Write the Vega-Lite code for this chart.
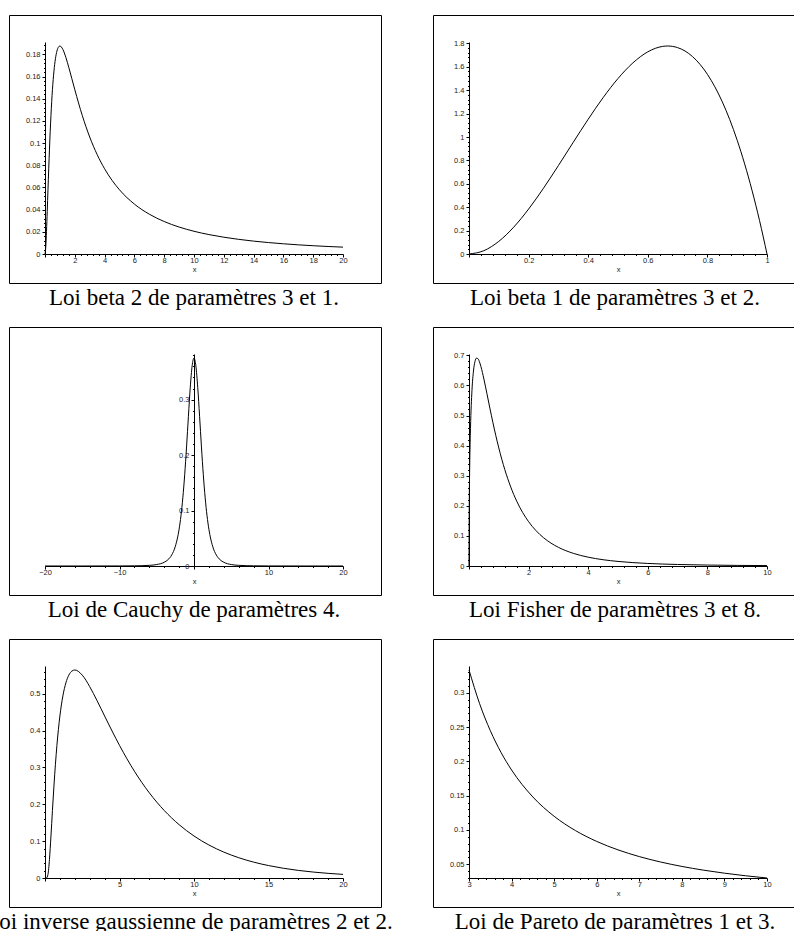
{
  "$schema": "https://vega.github.io/schema/vega-lite/v6.json",
  "background": "white",
  "padding": {"left": -16, "top": 14, "right": 0, "bottom": 0},
  "columns": 2,
  "spacing": {"row": 44, "column": 52},
  "bounds": "flush",
  "config": {
    "view": {"stroke": "black", "strokeWidth": 1},
    "axis": {"domainColor": "black", "domainWidth": 1, "tickColor": "black", "tickWidth": 1, "grid": false, "labelFont": "Liberation Sans", "labelFontSize": 7.5, "labelColor": "#222", "titleFont": "Liberation Sans", "titleFontSize": 7.5, "titleFontWeight": "normal", "titleColor": "#222", "labelFlush": false, "labelOverlap": false, "labelBound": false},
    "axisX": {"labelPadding": -1, "titlePadding": 2},
    "axisY": {"labelPadding": 2},
    "title": {"font": "Liberation Serif", "fontSize": 23, "fontWeight": "normal", "color": "black", "orient": "bottom", "anchor": "middle", "frame": "group", "baseline": "alphabetic", "offset": 0},
    "line": {"color": "black", "strokeWidth": 1}
  },
  "datasets": {
    "beta2": [{"x":0,"y":0},{"x":0.05,"y":0.00617},{"x":0.1,"y":0.02049},{"x":0.15,"y":0.03859},{"x":0.2,"y":0.05787},{"x":0.3,"y":0.09453},{"x":0.4,"y":0.12495},{"x":0.5,"y":0.14815},{"x":0.6,"y":0.16479},{"x":0.7,"y":0.176},{"x":0.8,"y":0.1829},{"x":0.9,"y":0.18646},{"x":1,"y":0.1875},{"x":1.2,"y":0.18441},{"x":1.4,"y":0.17723},{"x":1.6,"y":0.16806},{"x":1.8,"y":0.15814},{"x":2,"y":0.14815},{"x":2.5,"y":0.12495},{"x":3,"y":0.10547},{"x":3.5,"y":0.08962},{"x":4,"y":0.0768},{"x":4.5,"y":0.06639},{"x":5,"y":0.05787},{"x":6,"y":0.04498},{"x":7,"y":0.03589},{"x":8,"y":0.02926},{"x":9,"y":0.0243},{"x":10,"y":0.02049},{"x":11,"y":0.01751},{"x":12,"y":0.01513},{"x":13,"y":0.0132},{"x":14,"y":0.01161},{"x":15,"y":0.0103},{"x":16,"y":0.0092},{"x":17,"y":0.00826},{"x":18,"y":0.00746},{"x":19,"y":0.00677},{"x":20,"y":0.00617}],
    "beta1": [{"x":0,"y":0},{"x":0.05,"y":0.0285},{"x":0.1,"y":0.108},{"x":0.15,"y":0.2295},{"x":0.2,"y":0.384},{"x":0.25,"y":0.5625},{"x":0.3,"y":0.756},{"x":0.35,"y":0.9555},{"x":0.4,"y":1.152},{"x":0.45,"y":1.3365},{"x":0.5,"y":1.5},{"x":0.55,"y":1.6335},{"x":0.6,"y":1.728},{"x":0.65,"y":1.7745},{"x":0.6667,"y":1.7778},{"x":0.7,"y":1.764},{"x":0.75,"y":1.6875},{"x":0.8,"y":1.536},{"x":0.85,"y":1.3005},{"x":0.875,"y":1.14844},{"x":0.9,"y":0.972},{"x":0.925,"y":0.77006},{"x":0.95,"y":0.5415},{"x":0.975,"y":0.28519},{"x":1,"y":0}],
    "cauchy": [{"x":-20,"y":0.0000037},{"x":-15,"y":0.0000151},{"x":-10,"y":0.000109},{"x":-8,"y":0.000315},{"x":-6,"y":0.001186},{"x":-5,"y":0.00265},{"x":-4,"y":0.006708},{"x":-3.5,"y":0.01127},{"x":-3,"y":0.01969},{"x":-2.5,"y":0.03567},{"x":-2,"y":0.06629},{"x":-1.75,"y":0.09053},{"x":-1.5,"y":0.12288},{"x":-1.25,"y":0.16444},{"x":-1,"y":0.21466},{"x":-0.75,"y":0.2699},{"x":-0.5,"y":0.32226},{"x":-0.25,"y":0.36074},{"x":0,"y":0.375},{"x":0.25,"y":0.36074},{"x":0.5,"y":0.32226},{"x":0.75,"y":0.2699},{"x":1,"y":0.21466},{"x":1.25,"y":0.16444},{"x":1.5,"y":0.12288},{"x":1.75,"y":0.09053},{"x":2,"y":0.06629},{"x":2.5,"y":0.03567},{"x":3,"y":0.01969},{"x":3.5,"y":0.01127},{"x":4,"y":0.006708},{"x":5,"y":0.00265},{"x":6,"y":0.001186},{"x":8,"y":0.000315},{"x":10,"y":0.000109},{"x":15,"y":0.0000151},{"x":20,"y":0.0000037}],
    "fisher": [{"x":0,"y":0},{"x":0.01,"y":0.22144},{"x":0.02,"y":0.30682},{"x":0.05,"y":0.45636},{"x":0.1,"y":0.58381},{"x":0.15,"y":0.64793},{"x":0.2,"y":0.67916},{"x":0.25,"y":0.69045},{"x":0.3,"y":0.68883},{"x":0.35,"y":0.67869},{"x":0.4,"y":0.66282},{"x":0.5,"y":0.62118},{"x":0.6,"y":0.57349},{"x":0.7,"y":0.52476},{"x":0.8,"y":0.47763},{"x":0.9,"y":0.43319},{"x":1,"y":0.39226},{"x":1.2,"y":0.32082},{"x":1.4,"y":0.26265},{"x":1.6,"y":0.21562},{"x":1.8,"y":0.17775},{"x":2,"y":0.14725},{"x":2.25,"y":0.11723},{"x":2.5,"y":0.09408},{"x":2.75,"y":0.07609},{"x":3,"y":0.06199},{"x":3.5,"y":0.04206},{"x":4,"y":0.02928},{"x":4.5,"y":0.02087},{"x":5,"y":0.01518},{"x":6,"y":0.00848},{"x":7,"y":0.00502},{"x":8,"y":0.00312},{"x":9,"y":0.00202},{"x":10,"y":0.00136}],
    "invgauss": [{"x":0,"y":0},{"x":0.1,"y":0.0000679},{"x":0.2,"y":0.00983},{"x":0.3,"y":0.05075},{"x":0.4,"y":0.11391},{"x":0.5,"y":0.18317},{"x":0.6,"y":0.24931},{"x":0.7,"y":0.30852},{"x":0.8,"y":0.35974},{"x":0.9,"y":0.40314},{"x":1,"y":0.43939},{"x":1.2,"y":0.49376},{"x":1.4,"y":0.52906},{"x":1.6,"y":0.55026},{"x":1.8,"y":0.56107},{"x":2,"y":0.56419},{"x":2.5,"y":0.55026},{"x":3,"y":0.51908},{"x":3.5,"y":0.48043},{"x":4,"y":0.43939},{"x":4.5,"y":0.39868},{"x":5,"y":0.35974},{"x":6,"y":0.28966},{"x":7,"y":0.23103},{"x":8,"y":0.18317},{"x":9,"y":0.14465},{"x":10,"y":0.11391},{"x":11,"y":0.08951},{"x":12,"y":0.07025},{"x":13,"y":0.05506},{"x":14,"y":0.04309},{"x":15,"y":0.03374},{"x":16,"y":0.02639},{"x":17,"y":0.02062},{"x":18,"y":0.01612},{"x":19,"y":0.01259},{"x":20,"y":0.00983}],
    "pareto": [{"x":3,"y":0.33333},{"x":3.25,"y":0.28402},{"x":3.5,"y":0.2449},{"x":3.75,"y":0.21333},{"x":4,"y":0.1875},{"x":4.5,"y":0.14815},{"x":5,"y":0.12},{"x":5.5,"y":0.09917},{"x":6,"y":0.08333},{"x":6.5,"y":0.07101},{"x":7,"y":0.06122},{"x":7.5,"y":0.05333},{"x":8,"y":0.046875},{"x":8.5,"y":0.04152},{"x":9,"y":0.037037},{"x":9.5,"y":0.03324},{"x":10,"y":0.03}]
  },
  "concat": [
    {
      "width": 372, "height": 268,
      "data": {"name": "beta2"},
      "title": {"text": "Loi beta 2 de paramètres 3 et 1.", "dx": -1},
      "mark": {"type": "line", "interpolate": "monotone"},
      "encoding": {
        "x": {"field": "x", "type": "quantitative",
          "scale": {"domain": [0, 20], "range": [36, 334], "nice": false, "zero": false},
          "axis": {"title": "x", "offset": -29, "format": "~g",
            "values": [0,0.4,0.8,1.2,1.6,2,2.4,2.8,3.2,3.6,4,4.4,4.8,5.2,5.6,6,6.4,6.8,7.2,7.6,8,8.4,8.8,9.2,9.6,10,10.4,10.8,11.2,11.6,12,12.4,12.8,13.2,13.6,14,14.4,14.8,15.2,15.6,16,16.4,16.8,17.2,17.6,18,18.4,18.8,19.2,19.6,20],
            "labelExpr": "datum.value > 0.001 && abs(datum.value/2 - round(datum.value/2)) < 1e-6 ? datum.label : ''",
            "tickSize": {"condition": {"test": "abs(datum.value/2 - round(datum.value/2)) < 1e-6", "value": 3}, "value": 1.5}}},
        "y": {"field": "y", "type": "quantitative",
          "scale": {"domain": [0, 0.1911], "range": [239, 27], "nice": false, "zero": false},
          "axis": {"title": null, "offset": -36, "format": "~g",
            "values": [0,0.004,0.008,0.012,0.016,0.02,0.024,0.028,0.032,0.036,0.04,0.044,0.048,0.052,0.056,0.06,0.064,0.068,0.072,0.076,0.08,0.084,0.088,0.092,0.096,0.1,0.104,0.108,0.112,0.116,0.12,0.124,0.128,0.132,0.136,0.14,0.144,0.148,0.152,0.156,0.16,0.164,0.168,0.172,0.176,0.18,0.184,0.188],
            "labelExpr": "abs(datum.value/0.02 - round(datum.value/0.02)) < 1e-6 ? datum.label : ''",
            "tickSize": {"condition": {"test": "abs(datum.value/0.02 - round(datum.value/0.02)) < 1e-6", "value": 3}, "value": 1.5}}}
      }
    },
    {
      "width": 372, "height": 268,
      "data": {"name": "beta1"},
      "title": {"text": "Loi beta 1 de paramètres 3 et 2.", "dx": -4},
      "mark": {"type": "line", "interpolate": "monotone"},
      "encoding": {
        "x": {"field": "x", "type": "quantitative",
          "scale": {"domain": [0, 1], "range": [36, 334], "nice": false, "zero": false},
          "axis": {"title": "x", "offset": -29, "format": "~g",
            "values": [0,0.04,0.08,0.12,0.16,0.2,0.24,0.28,0.32,0.36,0.4,0.44,0.48,0.52,0.56,0.6,0.64,0.68,0.72,0.76,0.8,0.84,0.88,0.92,0.96,1],
            "labelExpr": "datum.value > 0.001 && abs(datum.value/0.2 - round(datum.value/0.2)) < 1e-6 ? datum.label : ''",
            "tickSize": {"condition": {"test": "abs(datum.value/0.2 - round(datum.value/0.2)) < 1e-6", "value": 3}, "value": 1.5}}},
        "y": {"field": "y", "type": "quantitative",
          "scale": {"domain": [0, 1.812], "range": [239, 27], "nice": false, "zero": false},
          "axis": {"title": null, "offset": -36, "format": "~g",
            "values": [0,0.04,0.08,0.12,0.16,0.2,0.24,0.28,0.32,0.36,0.4,0.44,0.48,0.52,0.56,0.6,0.64,0.68,0.72,0.76,0.8,0.84,0.88,0.92,0.96,1,1.04,1.08,1.12,1.16,1.2,1.24,1.28,1.32,1.36,1.4,1.44,1.48,1.52,1.56,1.6,1.64,1.68,1.72,1.76,1.8],
            "labelExpr": "abs(datum.value/0.2 - round(datum.value/0.2)) < 1e-6 ? datum.label : ''",
            "tickSize": {"condition": {"test": "abs(datum.value/0.2 - round(datum.value/0.2)) < 1e-6", "value": 3}, "value": 1.5}}}
      }
    },
    {
      "width": 372, "height": 268,
      "data": {"name": "cauchy"},
      "title": {"text": "Loi de Cauchy de paramètres 4.", "dx": -1},
      "mark": {"type": "line", "interpolate": "monotone"},
      "encoding": {
        "x": {"field": "x", "type": "quantitative",
          "scale": {"domain": [-20, 20], "range": [36, 334], "nice": false, "zero": false},
          "axis": {"title": "x", "offset": -29, "format": "~g",
            "values": [-20,-18,-16,-14,-12,-10,-8,-6,-4,-2,0,2,4,6,8,10,12,14,16,18,20],
            "labelExpr": "abs(datum.value) > 0.001 && abs(datum.value/10 - round(datum.value/10)) < 1e-6 ? datum.label : ''",
            "tickSize": {"condition": {"test": "abs(datum.value/10 - round(datum.value/10)) < 1e-6", "value": 3}, "value": 1.5}}},
        "y": {"field": "y", "type": "quantitative",
          "scale": {"domain": [0, 0.3822], "range": [239, 27], "nice": false, "zero": false},
          "axis": {"title": null, "offset": -185, "format": "~g",
            "values": [0,0.02,0.04,0.06,0.08,0.1,0.12,0.14,0.16,0.18,0.2,0.22,0.24,0.26,0.28,0.3,0.32,0.34,0.36,0.38],
            "labelExpr": "abs(datum.value/0.1 - round(datum.value/0.1)) < 1e-6 ? datum.label : ''",
            "tickSize": {"condition": {"test": "abs(datum.value/0.1 - round(datum.value/0.1)) < 1e-6", "value": 3}, "value": 1.5}}}
      }
    },
    {
      "width": 372, "height": 268,
      "data": {"name": "fisher"},
      "title": {"text": "Loi Fisher de paramètres 3 et 8.", "dx": -4},
      "mark": {"type": "line", "interpolate": "monotone"},
      "encoding": {
        "x": {"field": "x", "type": "quantitative",
          "scale": {"domain": [0, 10], "range": [36, 334], "nice": false, "zero": false},
          "axis": {"title": "x", "offset": -29, "format": "~g",
            "values": [0,0.4,0.8,1.2,1.6,2,2.4,2.8,3.2,3.6,4,4.4,4.8,5.2,5.6,6,6.4,6.8,7.2,7.6,8,8.4,8.8,9.2,9.6,10],
            "labelExpr": "datum.value > 0.001 && abs(datum.value/2 - round(datum.value/2)) < 1e-6 ? datum.label : ''",
            "tickSize": {"condition": {"test": "abs(datum.value/2 - round(datum.value/2)) < 1e-6", "value": 3}, "value": 1.5}}},
        "y": {"field": "y", "type": "quantitative",
          "scale": {"domain": [0, 0.7044], "range": [239, 27], "nice": false, "zero": false},
          "axis": {"title": null, "offset": -36, "format": "~g",
            "values": [0,0.02,0.04,0.06,0.08,0.1,0.12,0.14,0.16,0.18,0.2,0.22,0.24,0.26,0.28,0.3,0.32,0.34,0.36,0.38,0.4,0.42,0.44,0.46,0.48,0.5,0.52,0.54,0.56,0.58,0.6,0.62,0.64,0.66,0.68,0.7],
            "labelExpr": "abs(datum.value/0.1 - round(datum.value/0.1)) < 1e-6 ? datum.label : ''",
            "tickSize": {"condition": {"test": "abs(datum.value/0.1 - round(datum.value/0.1)) < 1e-6", "value": 3}, "value": 1.5}}}
      }
    },
    {
      "width": 372, "height": 268,
      "data": {"name": "invgauss"},
      "title": {"text": "Loi inverse gaussienne de paramètres 2 et 2.", "dx": -6},
      "mark": {"type": "line", "interpolate": "monotone"},
      "encoding": {
        "x": {"field": "x", "type": "quantitative",
          "scale": {"domain": [0, 20], "range": [36, 334], "nice": false, "zero": false},
          "axis": {"title": "x", "offset": -29, "format": "~g",
            "values": [0,1,2,3,4,5,6,7,8,9,10,11,12,13,14,15,16,17,18,19,20],
            "labelExpr": "datum.value > 0.001 && abs(datum.value/5 - round(datum.value/5)) < 1e-6 ? datum.label : ''",
            "tickSize": {"condition": {"test": "abs(datum.value/5 - round(datum.value/5)) < 1e-6", "value": 3}, "value": 1.5}}},
        "y": {"field": "y", "type": "quantitative",
          "scale": {"domain": [0, 0.575], "range": [239, 27], "nice": false, "zero": false},
          "axis": {"title": null, "offset": -36, "format": "~g",
            "values": [0,0.02,0.04,0.06,0.08,0.1,0.12,0.14,0.16,0.18,0.2,0.22,0.24,0.26,0.28,0.3,0.32,0.34,0.36,0.38,0.4,0.42,0.44,0.46,0.48,0.5,0.52,0.54,0.56],
            "labelExpr": "abs(datum.value/0.1 - round(datum.value/0.1)) < 1e-6 ? datum.label : ''",
            "tickSize": {"condition": {"test": "abs(datum.value/0.1 - round(datum.value/0.1)) < 1e-6", "value": 3}, "value": 1.5}}}
      }
    },
    {
      "width": 372, "height": 268,
      "data": {"name": "pareto"},
      "title": {"text": "Loi de Pareto de paramètres 1 et 3.", "dx": -4},
      "mark": {"type": "line", "interpolate": "monotone"},
      "encoding": {
        "x": {"field": "x", "type": "quantitative",
          "scale": {"domain": [3, 10], "range": [36, 334], "nice": false, "zero": false},
          "axis": {"title": "x", "offset": -29, "format": "~g",
            "values": [3,3.2,3.4,3.6,3.8,4,4.2,4.4,4.6,4.8,5,5.2,5.4,5.6,5.8,6,6.2,6.4,6.6,6.8,7,7.2,7.4,7.6,7.8,8,8.2,8.4,8.6,8.8,9,9.2,9.4,9.6,9.8,10],
            "labelExpr": "abs(datum.value - round(datum.value)) < 1e-6 ? datum.label : ''",
            "tickSize": {"condition": {"test": "abs(datum.value - round(datum.value)) < 1e-6", "value": 3}, "value": 1.5}}},
        "y": {"field": "y", "type": "quantitative",
          "scale": {"domain": [0.03, 0.3391], "range": [239, 27], "nice": false, "zero": false},
          "axis": {"title": null, "offset": -36, "format": "~g",
            "values": [0.03,0.04,0.05,0.06,0.07,0.08,0.09,0.1,0.11,0.12,0.13,0.14,0.15,0.16,0.17,0.18,0.19,0.2,0.21,0.22,0.23,0.24,0.25,0.26,0.27,0.28,0.29,0.3,0.31,0.32,0.33],
            "labelExpr": "abs(datum.value/0.05 - round(datum.value/0.05)) < 1e-6 ? datum.label : ''",
            "tickSize": {"condition": {"test": "abs(datum.value/0.05 - round(datum.value/0.05)) < 1e-6", "value": 3}, "value": 1.5}}}
      }
    }
  ]
}
